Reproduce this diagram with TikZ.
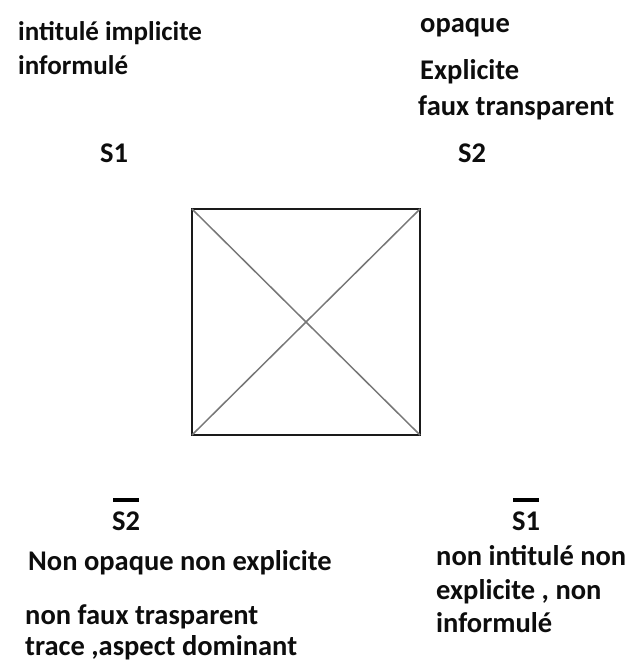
\documentclass[tikz,border=0pt]{standalone}
\usepackage{fontspec}
\setmainfont{Carlito}
\usetikzlibrary{positioning}
\definecolor{boxline}{HTML}{1A1A1A}
\definecolor{diagline}{HTML}{777777}
\definecolor{txtcol}{HTML}{0D0D0D}
\tikzset{
  lbl/.style    = {font=\fontsize{28.5}{34}\selectfont\bfseries, text=txtcol,
                   inner sep=0pt, anchor=base west},
  lblsm/.style  = {lbl, font=\fontsize{27}{34}\selectfont\bfseries},
  sqbox/.style  = {draw=boxline, line width=1.7pt},
  diag/.style   = {draw=diagline, line width=1.5pt},
  % ---- bar over the negated terms ----
  negbar/.style = {draw=black, line width=4pt},
}
\begin{document}
\begin{tikzpicture}[x=1pt, y=-1pt]
					\useasboundingbox (0,0) rectangle (626,663);
					\node[lblsm] (tl1) at (18,41) {intitulé implicite};
					\node[lblsm] (tl2) at (18,75) {informulé};
					\node[lbl] (s1) at (100,163) {S1};
					\node[lbl] (tr1) at (420,33) {opaque};
					\node[lbl] (tr2) at (420,80) {Explicite};
					\node[lbl] (tr3) at (418,116) {faux transparent};
					\node[lbl] (s2) at (458,163) {S2};
					\coordinate (c1) at (192,209);
					\coordinate (c2) at (420,209);
					\coordinate (c3) at (420,435);
					\coordinate (c4) at (192,435);
					\draw[sqbox] (c1) rectangle (c3);
					\draw[diag] (c1) -- (c3);
					\draw[diag] (c4) -- (c2);
					\node[lbl] (ns2) at (112,530) {S2};
					\draw[negbar] ([yshift=11pt,xshift=1pt]ns2.north west) -- ([yshift=11pt,xshift=-1pt]ns2.north east);
					\node[lbl] (bl1) at (28,570) {Non opaque non explicite};
					\node[lbl] (bl2) at (25,624) {non faux trasparent};
					\node[lbl] (bl3) at (25,655) {trace ,aspect dominant};
					\node[lbl] (ns1) at (512,530) {S1};
					\draw[negbar] ([yshift=11pt,xshift=1pt]ns1.north west) -- ([yshift=11pt,xshift=-1pt]ns1.north east);
					\node[lbl] (br1) at (436,565) {non intitulé non};
					\node[lbl] (br2) at (436,599) {explicite , non};
					\node[lbl] (br3) at (436,632) {informulé};
				\end{tikzpicture}
\end{document}
